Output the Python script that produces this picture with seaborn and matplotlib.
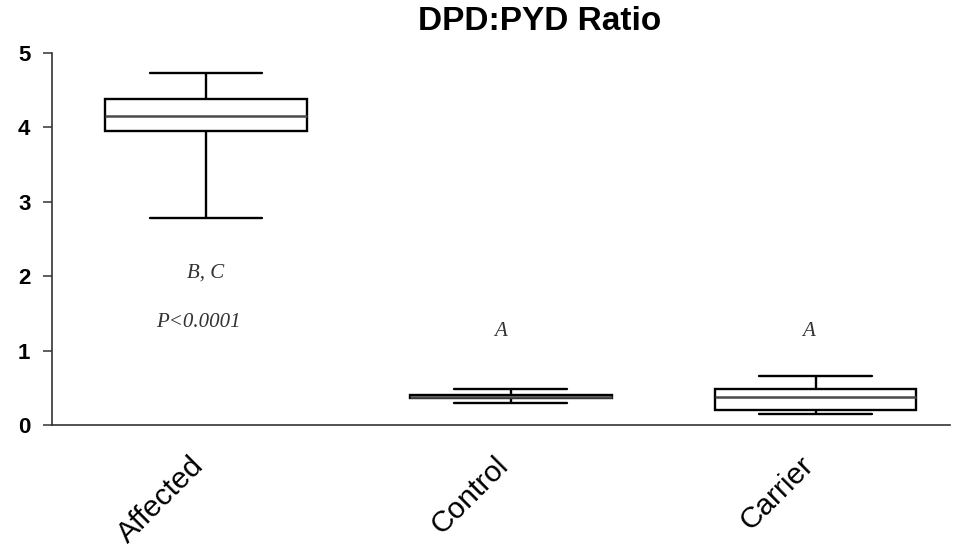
import matplotlib
matplotlib.use("Agg")
import matplotlib.pyplot as plt
import matplotlib.transforms as mtransforms
import seaborn as sns
import pandas as pd

# Five-number summaries for each group (min, Q1, median, Q3, max)
groups = ["Affected", "Control", "Carrier"]
minimum = [2.78, 0.30, 0.15]
lower_quartile = [3.95, 0.36, 0.20]
median = [4.15, 0.38, 0.38]
upper_quartile = [4.38, 0.40, 0.48]
maximum = [4.73, 0.48, 0.66]

# Significance letters above each group
sig_labels = ["B, C", "A", "A"]
sig_y = [2.04, 1.25, 1.25]
p_label = "P<0.0001"
p_y = 1.38

y_ticks = [0, 1, 2, 3, 4, 5]

# Five points per group reproduce the summary exactly with linear percentiles
rows = []
for g, a, b, c, d, e in zip(groups, minimum, lower_quartile, median,
                            upper_quartile, maximum):
    for v in (a, b, c, d, e):
        rows.append({"group": g, "ratio": v})
df = pd.DataFrame(rows)

sns.set_style("white")
plt.rcParams["font.family"] = ["Liberation Sans", "DejaVu Sans"]
plt.rcParams["text.color"] = "black"
plt.rcParams["xtick.color"] = "black"
plt.rcParams["ytick.color"] = "black"

fig = plt.figure(figsize=(9.56, 5.5), dpi=100)
ax = fig.add_axes([0.0544, 0.2273, 0.9393, 0.6763])

sns.boxplot(
    data=df, x="group", y="ratio", order=groups, ax=ax,
    whis=(0, 100), width=0.66, color="white", linecolor="black",
    linewidth=1.7, showfliers=False,
    medianprops=dict(color="#4a4a4a", linewidth=1.8),
    capwidths=0.37,
)

ax.set_xlim(-0.505, 2.44)
ax.set_ylim(0, 5)
ax.set_yticks(y_ticks)
ax.set_yticklabels([str(t) for t in y_ticks], fontsize=16,
                   fontweight="bold")
ax.set_xlabel("")
ax.set_ylabel("")

for side in ("top", "right"):
    ax.spines[side].set_visible(False)
for side in ("left", "bottom"):
    ax.spines[side].set_color("#333333")
    ax.spines[side].set_linewidth(1.2)

ax.tick_params(axis="y", direction="out", length=6.5, width=1.1,
               color="#333333", pad=9, left=True)
ax.tick_params(axis="x", length=0, pad=26)
shift = mtransforms.ScaledTranslation(-7 / 100, 0, fig.dpi_scale_trans)
for lbl in ax.get_xticklabels():
    lbl.set_rotation(45)
    lbl.set_ha("right")
    lbl.set_va("center")
    lbl.set_rotation_mode("anchor")
    lbl.set_fontsize(21.5)
    lbl.set_transform(lbl.get_transform() + shift)

serif_it = dict(family="Liberation Serif", style="italic", fontsize=15,
                color="#333333", ha="center", va="center")
offsets = [0.0, -0.035, -0.025]
for i, (txt, yv) in enumerate(zip(sig_labels, sig_y)):
    ax.text(i + offsets[i], yv, txt, **serif_it)
ax.text(-0.025, p_y, p_label, **serif_it)

fig.text(540 / 956, 1 - 21 / 550, "DPD:PYD Ratio", ha="center",
         va="center", fontsize=24, fontweight="bold")

fig.savefig("out.png", dpi=100)
